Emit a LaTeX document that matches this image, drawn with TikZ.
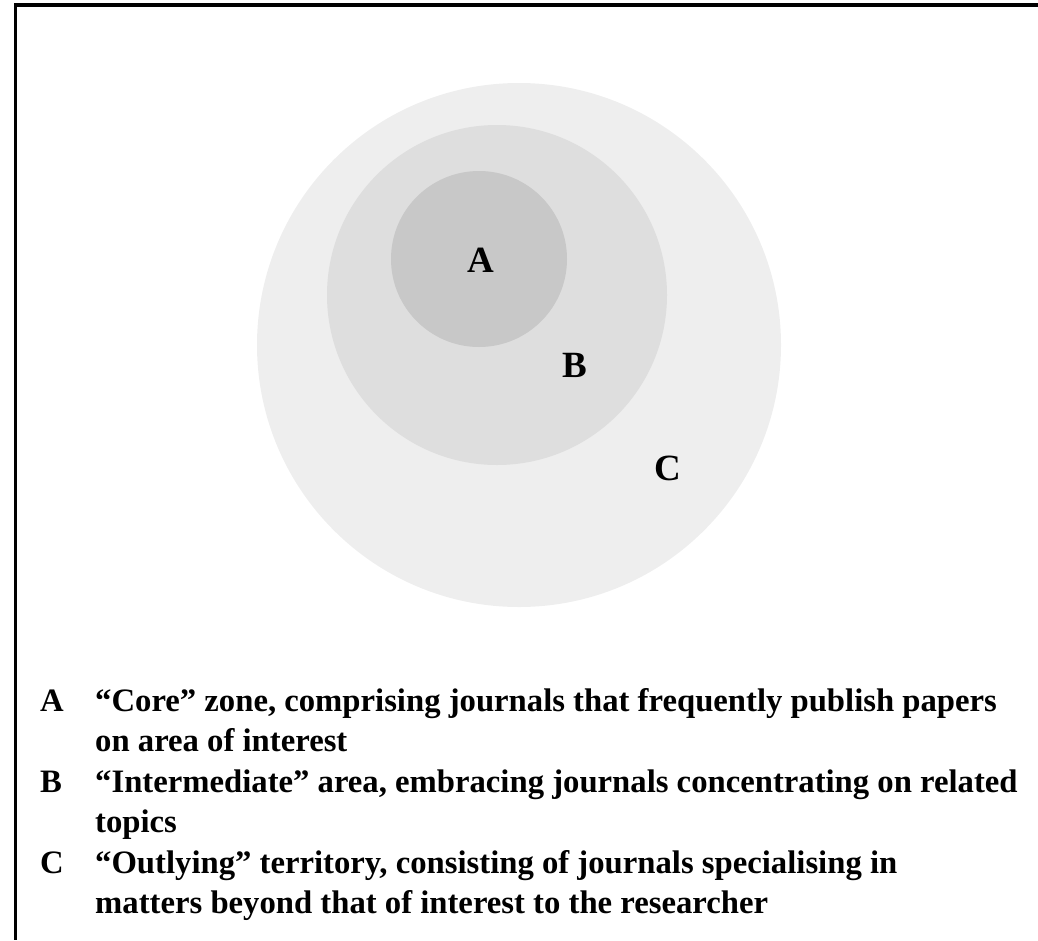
\documentclass[tikz,border=0pt]{standalone}
\usepackage{fontspec}
\setmainfont{Liberation Serif}
\begin{document}
\begin{tikzpicture}[x=1pt,y=-1pt,
  zone/.style={circle,draw=none,inner sep=0pt,outer sep=0pt},
  zonelabel/.style={anchor=base,inner sep=0pt,font=\fontsize{37}{40}\selectfont\bfseries},
  legkey/.style={anchor=base west,inner sep=0pt,font=\fontsize{32.7}{40}\selectfont\bfseries},
  legtext/.style={anchor=base west,inner sep=0pt,font=\fontsize{32.7}{40}\selectfont\bfseries},
  frame/.style={draw=black,line cap=butt}]
\useasboundingbox (0,0) rectangle (1038,940);
% frame
\coordinate (tr) at (1038,5);
\coordinate (bl) at (15.5,940);
\draw[frame,line width=4pt] (14,5) -- (tr);
\draw[frame,line width=3pt] (15.5,3) -- (bl);
% zones
\node[zone,fill={rgb,255:red,238;green,238;blue,238},minimum size=524pt] (zoneC) at (519,345) {};
\node[zone,fill={rgb,255:red,222;green,222;blue,222},minimum size=340pt] (zoneB) at (497,295) {};
\node[zone,fill={rgb,255:red,200;green,200;blue,200},minimum size=176pt] (zoneA) at (479,259) {};
% zone labels
\node[zonelabel] (labA) at (481,272) {A};
\node[zonelabel] (labB) at (575,377) {B};
\node[zonelabel] (labC) at (668,480) {C};
% legend
\node[legkey] (keyA) at (40,711) {A};
\node[legtext] (txtA1) at (95,711) {“Core” zone, comprising journals that frequently publish papers};
\node[legtext] (txtA2) at (95,751.5) {on area of interest};
\node[legkey] (keyB) at (40,792) {B};
\node[legtext] (txtB1) at (95,792) {“Intermediate” area, embracing journals concentrating on related};
\node[legtext] (txtB2) at (95,832.5) {topics};
\node[legkey] (keyC) at (40,873) {C};
\node[legtext] (txtC1) at (95,873) {“Outlying” territory, consisting of journals specialising in};
\node[legtext] (txtC2) at (95,913.5) {matters beyond that of interest to the researcher};
\end{tikzpicture}
\end{document}
